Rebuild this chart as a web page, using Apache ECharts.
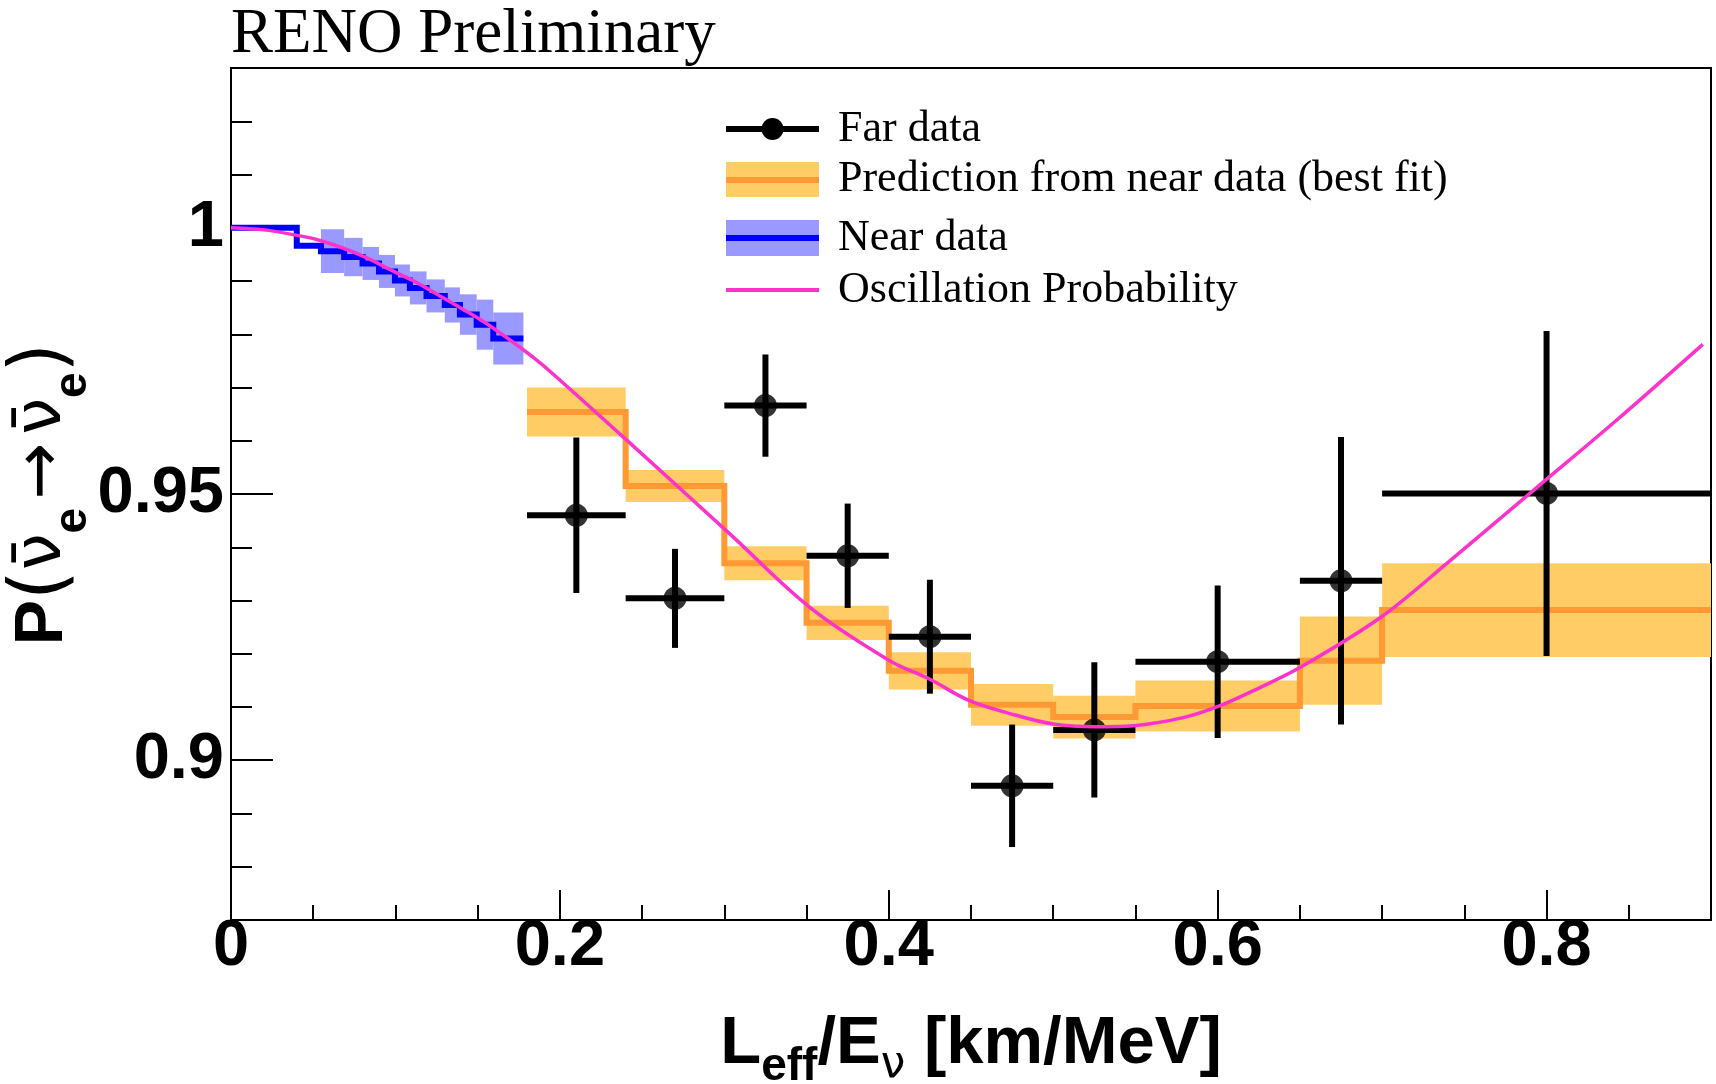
<!DOCTYPE html>
<html>
<head>
<meta charset="utf-8">
<script src="https://cdn.jsdelivr.net/npm/echarts@6/dist/echarts.min.js"></script>
<style>
html, body { margin: 0; padding: 0; background: #ffffff; }
#chart { width: 1716px; height: 1084px; }
</style>
</head>
<body>
<div id="chart"></div>
<script>
// Near detector: bin edges in L_eff/E, survival ratio and its uncertainty
const nearEdges  = [0, 0.040, 0.0547, 0.0688, 0.080, 0.090, 0.0997, 0.1088, 0.1189, 0.130, 0.1392, 0.1494, 0.1595, 0.1778];
const nearValues = [1.000, 0.9966, 0.9956, 0.9945, 0.9933, 0.9918, 0.9901, 0.9887, 0.9872, 0.9855, 0.9837, 0.9818, 0.9792];
const nearErrors = [0, 0, 0.0041, 0.0036, 0.0031, 0.0031, 0.0030, 0.0031, 0.0031, 0.0033, 0.0038, 0.0047, 0.0049];

// Far detector binning and the prediction from near data (best fit)
const farEdges    = [0.18, 0.24, 0.30, 0.35, 0.40, 0.45, 0.50, 0.55, 0.65, 0.70, 0.90];
const predValues  = [0.9654, 0.9515, 0.9370, 0.9258, 0.9168, 0.9104, 0.9081, 0.9102, 0.9187, 0.9282];
const predErrors  = [0.0046, 0.0030, 0.0032, 0.0032, 0.0035, 0.0039, 0.0040, 0.0048, 0.0083, 0.0088];

// Far data points (bin centres, values, vertical errors)
const farCenters = [0.21, 0.27, 0.325, 0.375, 0.425, 0.475, 0.525, 0.60, 0.675, 0.80];
const farValues  = [0.9460, 0.9304, 0.9666, 0.9384, 0.9232, 0.8952, 0.9057, 0.9185, 0.9337, 0.9501];
const farErrors  = [0.0146, 0.0093, 0.0096, 0.0098, 0.0107, 0.0115, 0.0127, 0.0143, 0.0270, 0.0305];

// Oscillation probability curve
const oscX = [0, 0.020, 0.038, 0.052, 0.068, 0.083, 0.099, 0.113, 0.127, 0.141, 0.153, 0.168, 0.184, 0.196, 0.240, 0.303, 0.352, 0.400, 0.425, 0.449, 0.478, 0.500, 0.525, 0.549, 0.579, 0.601, 0.626, 0.650, 0.699, 0.741, 0.794, 0.842, 0.895];
const oscP = [1.0000, 0.9996, 0.9987, 0.9978, 0.9962, 0.9943, 0.9918, 0.9897, 0.9872, 0.9847, 0.9825, 0.9793, 0.9756, 0.9725, 0.9603, 0.9426, 0.9287, 0.9188, 0.9152, 0.9112, 0.9084, 0.9068, 0.9063, 0.9065, 0.9080, 0.9102, 0.9137, 0.9174, 0.9268, 0.9374, 0.9512, 0.9637, 0.9781];

// Axis ticks
const xTickValues      = [0, 0.2, 0.4, 0.6, 0.8];
const xMinorTickValues = [0.05, 0.1, 0.15, 0.25, 0.3, 0.35, 0.45, 0.5, 0.55, 0.65, 0.7, 0.75, 0.85];
const yTickValues      = [0.9, 0.95, 1];
const yMinorTickValues = [0.88, 0.89, 0.91, 0.92, 0.93, 0.94, 0.96, 0.97, 0.98, 0.99, 1.01, 1.02];

const X_MIN = 0, X_MAX = 0.9, Y_MIN = 0.87, Y_MAX = 1.03;

const COL_NEAR_BAND = '#9999FF', COL_NEAR_LINE = '#0000FF';
const COL_PRED_BAND = '#FFCC66', COL_PRED_LINE = '#FF9933';
const COL_OSC = '#FF33CC';

const SANS = '"Liberation Sans", Arial, Helvetica, sans-serif';
const SERIF = '"Liberation Serif", "Times New Roman", serif';
const SYM = '"DejaVu Sans", sans-serif';

// ---- derived tables ----
function bandRows(edges, vals, errs) {
  return vals.map((v, i) => [edges[i], edges[i + 1], v - errs[i], v + errs[i]]);
}
function stepRows(edges, vals) {
  const d = vals.map((v, i) => [edges[i], v]);
  d.push([edges[edges.length - 1], vals[vals.length - 1]]);
  return d;
}
const farRows = farCenters.map((c, i) => [c, farValues[i], farEdges[i], farEdges[i + 1], farErrors[i]]);
const oscRows = oscX.map((x, i) => [x, oscP[i]]);

function bandRenderer(color) {
  return function (params, api) {
    const p0 = api.coord([api.value(0), api.value(3)]);
    const p1 = api.coord([api.value(1), api.value(2)]);
    return {
      type: 'rect',
      shape: { x: p0[0], y: p0[1], width: p1[0] - p0[0], height: p1[1] - p0[1] },
      style: { fill: color }
    };
  };
}

function errorBarRenderer(params, api) {
  const xc = api.value(0), y = api.value(1), x0 = api.value(2), x1 = api.value(3), e = api.value(4);
  const l = api.coord([x0, y]), r = api.coord([x1, y]);
  const t = api.coord([xc, y + e]), b = api.coord([xc, y - e]);
  const st = { stroke: '#000000', lineWidth: 6, lineCap: 'butt' };
  return {
    type: 'group',
    children: [
      { type: 'line', shape: { x1: l[0], y1: l[1], x2: r[0], y2: r[1] }, style: st },
      { type: 'line', shape: { x1: t[0], y1: t[1], x2: b[0], y2: b[1] }, style: st }
    ]
  };
}

const tickFont = { fontFamily: SANS, fontWeight: 'bold', fontSize: 65, color: '#000' };

// Legend entries
const LG_X0 = 726, LG_X1 = 819, LG_TX = 838;
const legendRows = [129, 179, 238, 290];
const legendTexts = ['Far data', 'Prediction from near data (best fit)', 'Near data', 'Oscillation Probability'];

const graphics = [
  { type: 'text', x: 231, y: 35, style: { text: 'RENO Preliminary', fontFamily: SERIF, fontSize: 63, fill: '#000', align: 'left', verticalAlign: 'middle' } },
  // Far data
  { type: 'line', shape: { x1: LG_X0, y1: legendRows[0], x2: LG_X1, y2: legendRows[0] }, style: { stroke: '#000', lineWidth: 6 } },
  { type: 'circle', shape: { cx: (LG_X0 + LG_X1) / 2, cy: legendRows[0], r: 11 }, style: { fill: '#000' } },
  // Prediction
  { type: 'rect', shape: { x: LG_X0, y: legendRows[1] - 17, width: LG_X1 - LG_X0, height: 35 }, style: { fill: COL_PRED_BAND } },
  { type: 'line', shape: { x1: LG_X0, y1: legendRows[1] + 1, x2: LG_X1, y2: legendRows[1] + 1 }, style: { stroke: COL_PRED_LINE, lineWidth: 6 } },
  // Near data
  { type: 'rect', shape: { x: LG_X0, y: legendRows[2] - 18, width: LG_X1 - LG_X0, height: 36 }, style: { fill: COL_NEAR_BAND } },
  { type: 'line', shape: { x1: LG_X0, y1: legendRows[2], x2: LG_X1, y2: legendRows[2] }, style: { stroke: COL_NEAR_LINE, lineWidth: 6 } },
  // Oscillation
  { type: 'line', shape: { x1: LG_X0, y1: legendRows[3], x2: LG_X1, y2: legendRows[3] }, style: { stroke: COL_OSC, lineWidth: 4 } }
];
legendTexts.forEach((t, i) => {
  graphics.push({ type: 'text', x: LG_TX, y: legendRows[i], style: { text: t, fontFamily: SERIF, fontSize: 44, fill: '#000', align: 'left', verticalAlign: 'middle' } });
});

const chart = echarts.init(document.getElementById('chart'), null, { renderer: 'canvas' });

const option = {
  backgroundColor: '#ffffff',
  animation: false,
  grid: {
    left: 231, top: 68, right: 5, bottom: 164,
    containLabel: false, outerBoundsMode: 'none',
    show: true, borderColor: '#000', borderWidth: 2, backgroundColor: 'transparent'
  },
  xAxis: [
    {
      type: 'value', min: X_MIN, max: X_MAX, position: 'bottom',
      axisLine: { show: true, onZero: false, lineStyle: { color: '#000', width: 2 } },
      axisTick: { show: true, inside: true, length: 30, customValues: xTickValues, lineStyle: { color: '#000', width: 2 } },
      axisLabel: { show: true, customValues: xTickValues, margin: 27, verticalAlign: 'middle', ...tickFont },
      splitLine: { show: false },
      name: '{m|L}{s|eff}{m|/E}{nu|ν}{m| [km/MeV]}',
      nameLocation: 'middle',
      nameGap: 80,
      nameTextStyle: {
        rich: {
          m: { fontFamily: SANS, fontWeight: 'bold', fontSize: 67, color: '#000', verticalAlign: 'middle' },
          s: { fontFamily: SANS, fontWeight: 'bold', fontSize: 46, color: '#000', verticalAlign: 'top', padding: [44, 0, 0, 0] },
          nu: { fontFamily: SYM, fontWeight: 'normal', fontSize: 44, color: '#000', verticalAlign: 'top', padding: [44, 0, 0, 0] }
        }
      }
    },
    {
      type: 'value', min: X_MIN, max: X_MAX, position: 'bottom',
      axisLine: { show: false, onZero: false },
      axisTick: { show: true, inside: true, length: 15, customValues: xMinorTickValues, lineStyle: { color: '#000', width: 2 } },
      axisLabel: { show: false },
      splitLine: { show: false }
    }
  ],
  yAxis: [
    {
      type: 'value', min: Y_MIN, max: Y_MAX, position: 'left',
      axisLine: { show: true, onZero: false, lineStyle: { color: '#000', width: 2 } },
      axisTick: { show: true, inside: true, length: 42, customValues: yTickValues, lineStyle: { color: '#000', width: 2 } },
      axisLabel: { show: true, customValues: yTickValues, margin: 7, ...tickFont },
      splitLine: { show: false },
      name: '{p|P}{par|(}{nu|ν\u0304}{s|e}{arr|→}{nu|ν\u0304}{s|e}{par|)}',
      nameLocation: 'middle',
      nameRotate: 90,
      nameGap: 135,
      nameMoveOverlap: false,
      nameTextStyle: {
        rich: {
          p: { fontFamily: SANS, fontWeight: 'bold', fontSize: 68, color: '#000', verticalAlign: 'middle' },
          par: { fontFamily: SYM, fontWeight: 'normal', fontSize: 76, color: '#000', verticalAlign: 'middle' },
          nu: { fontFamily: SYM, fontWeight: 'normal', fontSize: 66, color: '#000', verticalAlign: 'middle' },
          arr: { fontFamily: SYM, fontWeight: 'normal', fontSize: 68, color: '#000', verticalAlign: 'middle', padding: [0, 8, 0, 8] },
          s: { fontFamily: SANS, fontWeight: 'bold', fontSize: 46, color: '#000', verticalAlign: 'top', padding: [60, 0, 0, 0] }
        }
      }
    },
    {
      type: 'value', min: Y_MIN, max: Y_MAX, position: 'left',
      axisLine: { show: false, onZero: false },
      axisTick: { show: true, inside: true, length: 21, customValues: yMinorTickValues, lineStyle: { color: '#000', width: 2 } },
      axisLabel: { show: false },
      splitLine: { show: false }
    }
  ],
  graphic: graphics,
  series: [
    {
      name: 'Near data band', type: 'custom', z: 1, silent: true,
      data: bandRows(nearEdges, nearValues, nearErrors),
      encode: { x: [0, 1], y: [2, 3] },
      renderItem: bandRenderer(COL_NEAR_BAND)
    },
    {
      name: 'Prediction band', type: 'custom', z: 1, silent: true,
      data: bandRows(farEdges, predValues, predErrors),
      encode: { x: [0, 1], y: [2, 3] },
      renderItem: bandRenderer(COL_PRED_BAND)
    },
    {
      name: 'Near data', type: 'line', z: 3, step: 'end', showSymbol: false, symbol: 'none', silent: true,
      data: stepRows(nearEdges, nearValues),
      lineStyle: { color: COL_NEAR_LINE, width: 6, cap: 'butt', join: 'miter' }
    },
    {
      name: 'Prediction from near data (best fit)', type: 'line', z: 3, step: 'end', showSymbol: false, symbol: 'none', silent: true,
      data: stepRows(farEdges, predValues),
      lineStyle: { color: COL_PRED_LINE, width: 6, cap: 'butt', join: 'miter' }
    },
    {
      name: 'Far data errors', type: 'custom', z: 4, silent: true,
      data: farRows,
      encode: { x: 0, y: 1 },
      renderItem: errorBarRenderer
    },
    {
      name: 'Far data', type: 'scatter', z: 5, silent: true,
      data: farCenters.map((c, i) => [c, farValues[i]]),
      symbol: 'circle', symbolSize: 23,
      itemStyle: { color: '#000' }
    },
    {
      name: 'Oscillation Probability', type: 'line', z: 6, smooth: 0.35, showSymbol: false, symbol: 'none', silent: true,
      data: oscRows,
      lineStyle: { color: COL_OSC, width: 3.5 }
    }
  ]
};

chart.setOption(option);
</script>
</body>
</html>
